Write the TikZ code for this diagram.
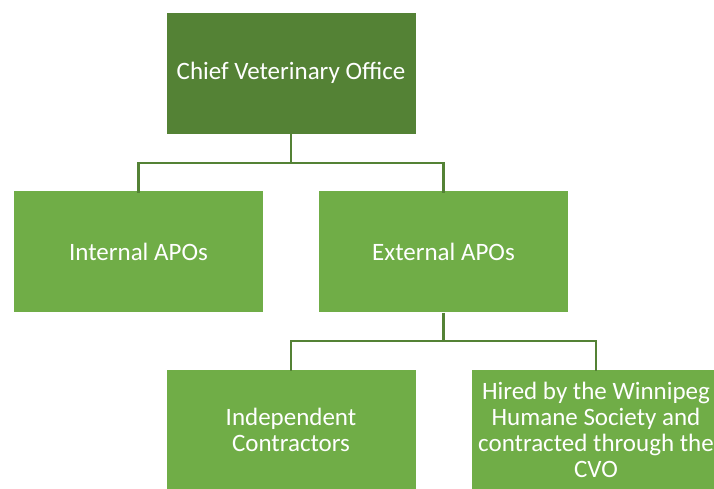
\documentclass[tikz,border=0pt]{standalone}
\usepackage{fontspec}
\setmainfont{Carlito}
\definecolor{darkgrn}{HTML}{548235}
\definecolor{lightgrn}{HTML}{70AD47}
\begin{document}
\begin{tikzpicture}[x=1pt,y=-1pt,
every node/.style={%
draw=white,
line width=0.5pt,
text=white,
anchor=center,
align=center,
font=\fontsize{25}{26}\selectfont,
},
unit/.style={fill=lightgrn,minimum width=250pt,minimum height=122pt},
head/.style={unit,fill=darkgrn},
lnk/.style={draw=darkgrn,line width=2.5pt}
]
\useasboundingbox(0,0)rectangle(714,489);
\node[head]at(291,73)(cvo){Chief Veterinary Office};
\node[unit]at(138.5,251.5)(int){Internal APOs};
\node[unit]at(443.5,251.5)(ext){External APOs};
\node[unit,minimum height=121pt]at(291,429.5)(ind){Independent\\Contractors};
\node[unit,minimum height=121pt]at(596,429.5)(whs){Hired by the Winnipeg\\Humane Society and\\contracted through the\\CVO};
\draw[lnk](cvo.south)--++(0,29)-|([yshift=-3pt]int.north);
\draw[lnk](cvo.south)--++(0,29)-|([yshift=-3pt]ext.north);
\draw[lnk](ext.south)--++(0,28)-|([yshift=-2pt]ind.north);
\draw[lnk](ext.south)--++(0,28)-|([yshift=-2pt]whs.north);
\end{tikzpicture}
\end{document}
